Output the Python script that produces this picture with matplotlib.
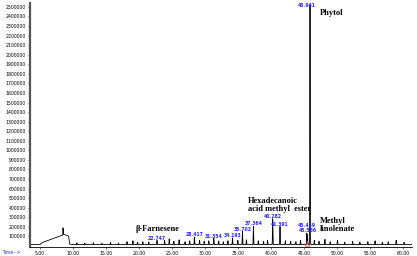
import numpy as np
import matplotlib
matplotlib.use("Agg")
import matplotlib.pyplot as plt

# ---------------- data ----------------
# labelled peaks (retention time, abundance, label)
peak_rt = [22.747, 28.417, 31.354, 34.193, 35.702, 37.364, 40.282, 41.391,
           45.459, 45.566, 45.941]
peak_height = [45000, 80000, 65000, 70000, 140000, 190000, 270000, 190000,
               120000, 100000, 2510000]
peak_label = ["22.747", "28.417", "31.354", "34.193", "35.702", "37.364",
              "40.282", "41.391", "45.459", "45.566", "45.941"]

# smaller unlabelled peaks (retention time, abundance)
minor_rt = [10.6, 11.8, 13.1, 14.4, 15.7, 16.9, 18.2, 19.1, 19.8, 20.6,
            21.5, 23.9, 24.6, 25.3, 26.1, 27.0, 27.7, 29.2, 29.9, 30.6,
            32.1, 32.8, 33.5, 35.0, 36.3, 38.1, 38.9, 39.5, 42.2, 43.0,
            43.8, 44.5, 46.6, 47.3, 48.2, 49.0, 50.1, 51.2, 52.4, 53.5,
            54.7, 55.8, 56.9, 57.8, 59.0, 60.2]
minor_height = [18000, 15000, 20000, 14000, 22000, 17000, 30000, 40000, 25000, 30000,
                28000, 45000, 60000, 35000, 50000, 30000, 40000, 45000, 35000, 40000,
                38000, 30000, 40000, 45000, 50000, 40000, 35000, 45000, 40000, 35000,
                30000, 45000, 45000, 35000, 55000, 30000, 45000, 25000, 35000, 25000,
                30000, 40000, 25000, 30000, 45000, 25000]

# solvent hump / baseline (time, abundance)
base_t = [3.5, 5.0, 5.3, 8.45, 8.5, 8.6, 8.7, 9.35, 9.5, 10.0, 61.4]
base_y = [15000, 15000, 35000, 115000, 190000, 120000, 120000, 105000, 20000, 15000, 15000]

x_ticks = [5, 10, 15, 20, 25, 30, 35, 40, 45, 50, 55, 60]
y_ticks = list(range(100000, 2500001, 100000))

# ---------------- build trace ----------------
t = np.arange(3.5, 61.4, 0.005)
y = np.interp(t, base_t, base_y)
sig = 0.03
for rt, h in zip(peak_rt + minor_rt, peak_height + minor_height):
    y += h * np.exp(-0.5 * ((t - rt) / sig) ** 2)

# ---------------- figure ----------------
fig = plt.figure(figsize=(4.17, 2.56), dpi=100)
ax = fig.add_axes([30 / 417, 1 - 247 / 256, (412 - 30) / 417, (247 - 3) / 256])
ax.plot(t, y, color="black", lw=0.6)

ax.set_xlim(3.5, 61.4)
ax.set_ylim(-10000, 2540000)

for s in ["top", "right"]:
    ax.spines[s].set_visible(False)
ax.spines["left"].set_linewidth(1.6)
ax.spines["left"].set_color("#555555")
ax.spines["bottom"].set_linewidth(0.6)

ax.set_xticks(x_ticks)
ax.set_xticklabels([f"{v:.2f}" for v in x_ticks])
ax.set_yticks(y_ticks)
ax.set_yticklabels([str(v) for v in y_ticks])
ax.tick_params(axis="both", labelsize=3.3, length=1.5, width=0.4, pad=1.5)

# retention-time labels
blue = "#2a2aff"
lab_dx = {"45.941": -0.5}
lab_y = {"22.747": 55000, "28.417": 90000, "31.354": 75000, "34.193": 80000,
         "35.702": 150000, "37.364": 205000, "40.282": 285000, "41.391": 200000,
         "45.459": 190000, "45.566": 135000, "45.941": 2490000}
for rt, lab in zip(peak_rt, peak_label):
    ax.text(rt + lab_dx.get(lab, 0), lab_y[lab], lab, fontsize=3.3, color=blue,
            ha="center", va="bottom", fontweight="bold", clip_on=False)

# compound names
ser = dict(family="Liberation Serif", fontweight="bold", fontsize=6, color="black")
ax.text(47.4, 2417000, "Phytol", va="baseline", ha="left", **ser)
ax.text(36.5, 446000, "Hexadecanoic", va="baseline", ha="left", **ser)
ax.text(36.5, 363000, "acid methyl  ester", va="baseline", ha="left", **ser)
ax.text(47.4, 239000, "Methyl", va="baseline", ha="left", **ser)
ax.text(47.4, 156000, "linolenate", va="baseline", ha="left", **ser)
ax.text(19.5, 160000, "β-Farnesene", va="baseline", ha="left", **ser)

# small red marker
ax.plot([45.45], [15000], marker="o", ms=2.5, mfc="none", mec="red", mew=0.5)

fig.text(2 / 417, 1 - 254 / 256, "Time-->", fontsize=3.3, color="#2040c0", ha="left")

fig.savefig("out.png", dpi=100)
